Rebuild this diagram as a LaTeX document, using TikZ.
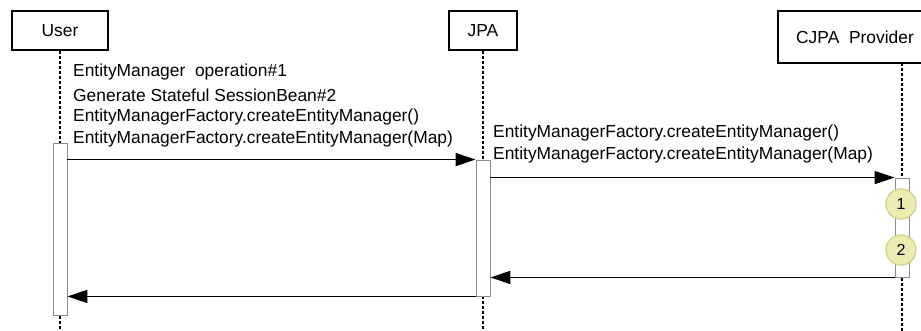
\documentclass[tikz,border=0pt]{standalone}
\usepackage{fontspec}
\setmainfont{Liberation Sans}
\usetikzlibrary{arrows.meta,positioning,calc}
\definecolor{ink}{HTML}{000000}
\definecolor{barline}{HTML}{8C8C8C}
\definecolor{stepfill}{HTML}{EBEBB2}
\definecolor{stepline}{HTML}{D4D48E}
\tikzset{
  every node/.style={font=\fontsize{17.4}{20}\selectfont, text=ink},
  actor/.style={draw=ink, line width=1.8pt, fill=white, inner sep=0pt, minimum height=39pt},
  lifeline/.style={draw=ink, line width=1.7pt, dash pattern=on 3pt off 2pt},
  activation/.style={draw=barline, line width=0.9pt, fill=white, minimum width=14pt, inner sep=0pt},
  msg/.style={-{Triangle[length=20pt,width=13pt]}, draw=ink, line width=1.7pt},
  msgtext/.style={anchor=west, inner sep=0pt},
  stepmark/.style={circle, fill=stepfill, draw=stepline, line width=1.4pt, minimum size=30pt, inner sep=0pt, font=\fontsize{16}{18}\selectfont},
}

\begin{document}
\begin{tikzpicture}[x=1pt, y=-1pt]
  \useasboundingbox (0,0) rectangle (921,330);
  \coordinate (bottom) at (0,332);

  % actors
  \node[actor, minimum width=96pt] (user) at (60,30.5) {User};
  \node[actor, minimum width=68pt] (jpa) at (483,30.5) {JPA};
  \node[actor, minimum width=154pt, minimum height=52pt] (cjpa) at (855,37) {CJPA\ \ Provider};
  \coordinate (cjpaline) at (902,63);

  % lifelines
  \draw[lifeline] (user.south) -- (user.south |- bottom);
  \draw[lifeline] (jpa.south) -- (jpa.south |- bottom);
  \draw[lifeline] (cjpaline) -- (cjpaline |- bottom);

  % activation bars
  \node[activation, minimum height=172pt] (ubar) at (60,229) {};
  \node[activation, minimum height=136pt] (jbar) at (483,228) {};
  \node[activation, minimum height=99pt] (cbar) at (902,227.5) {};

  % processing steps
  \node[stepmark] (s1) at (901,204) {1};
  \node[stepmark] (s2) at (901,250) {2};

  % messages
  \foreach \y/\t in {72/{EntityManager\ \ operation\#1}, 95/{Generate Stateful SessionBean\#2},
      117/{EntityManagerFactory.createEntityManager()}, 139/{EntityManagerFactory.createEntityManager(Map)}} {
    \node[msgtext] at (73,\y) {\t};
  }
  \foreach \y/\t in {133/{EntityManagerFactory.createEntityManager()}, 155/{EntityManagerFactory.createEntityManager(Map)}} {
    \node[msgtext] at (493,\y) {\t};
  }
  \draw[msg] (ubar.east |- jbar.north) -- (jbar.north west);
  \draw[msg] (jbar.east |- cbar.north) -- (cbar.north west);
  \draw[msg] (cbar.south west) -- (jbar.east |- cbar.south);
  \draw[msg] (jbar.south west) -- (ubar.east |- jbar.south);
\end{tikzpicture}
\end{document}
